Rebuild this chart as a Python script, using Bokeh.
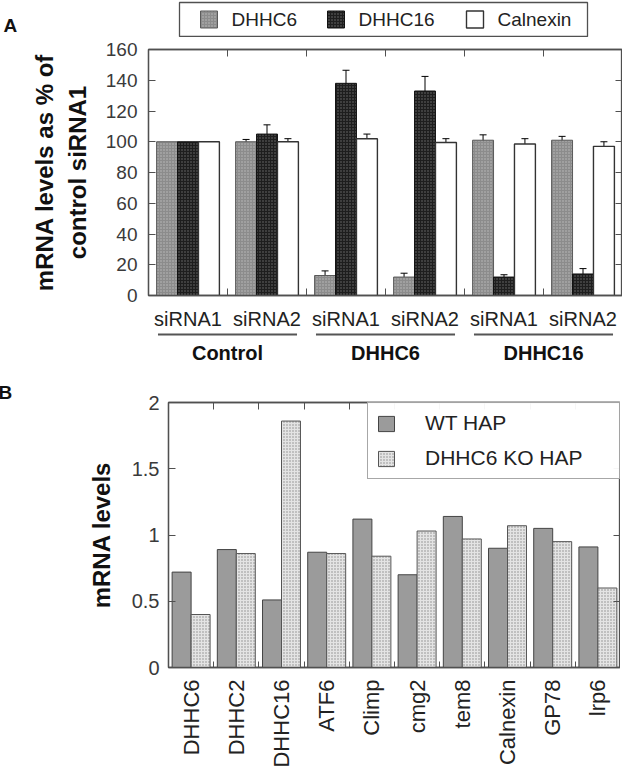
import numpy as np
from bokeh.plotting import figure
from bokeh.models import (Range1d, FixedTicker, LinearAxis, Legend, LegendItem,
                          Whisker, TeeHead, ColumnDataSource, NumeralTickFormatter,
                          CustomJSTickFormatter)
from bokeh.embed import file_html
from bokeh.resources import INLINE
from bokeh.core.properties import value

FONT = "Liberation Sans"
AX = "#505050"
TXT = "#3a3a3a"

# ---------------- Panel A data ----------------
groups = ["Control", "DHHC6", "DHHC16"]
sirna_labels = ["siRNA1", "siRNA2", "siRNA1", "siRNA2", "siRNA1", "siRNA2"]
a_series = ["DHHC6", "DHHC16", "Calnexin"]
dhhc6_vals = [100, 100, 13, 12, 101, 101]
dhhc6_err = [0, 1.5, 3, 2.5, 3.5, 2.5]
dhhc16_vals = [100, 105, 138, 133, 12, 14]
dhhc16_err = [0, 6, 8.5, 9.5, 1.5, 3.5]
calnexin_vals = [100, 100, 102, 99.5, 98.5, 97]
calnexin_err = [0, 2, 3, 2.5, 3.5, 3]
a_yticks = [0, 20, 40, 60, 80, 100, 120, 140, 160]

# ---------------- Panel B data ----------------
genes = ["DHHC6", "DHHC2", "DHHC16", "ATF6", "Climp", "cmg2", "tem8", "Calnexin", "GP78", "lrp6"]
wt_hap = [0.72, 0.89, 0.51, 0.87, 1.12, 0.70, 1.14, 0.90, 1.05, 0.91]
ko_hap = [0.40, 0.86, 1.86, 0.86, 0.84, 1.03, 0.97, 1.07, 0.95, 0.60]
b_yticks = [0, 0.5, 1, 1.5, 2]
b_series = ["WT HAP", "DHHC6 KO HAP"]


def inward_axis(axis, labels=True):
    axis.axis_line_color = AX
    axis.axis_line_width = 1.3
    axis.major_tick_line_color = AX
    axis.minor_tick_line_color = AX
    axis.major_tick_in = 7
    axis.major_tick_out = 0
    axis.minor_tick_in = 0
    axis.minor_tick_out = 0
    if not labels:
        axis.formatter = CustomJSTickFormatter(code="return ''")
        axis.major_label_text_font_size = "1px"
        axis.major_label_standoff = 0
    return axis


def blank(fig):
    fig.outline_line_color = None
    fig.grid.visible = False
    return fig


styles = [
    dict(fill_color="#8c8c8c", hatch_pattern="dot", hatch_color="#bdbdbd", hatch_scale=3,
         line_color="#5a5a5a", line_width=1),
    dict(fill_color="#1e1e1e", hatch_pattern="dot", hatch_color="#707070", hatch_scale=3,
         line_color="#111111", line_width=1),
    dict(fill_color="white", line_color="#333333", line_width=1.4),
]

# ================= Panel A header (letter + legend key) =================
H0 = 37
pA0 = figure(width=622, height=H0, x_range=Range1d(0, 622), y_range=Range1d(H0, 0),
             x_axis_location=None, y_axis_location=None,
             min_border_left=0, min_border_right=0, min_border_top=0, min_border_bottom=0,
             output_backend="svg", toolbar_location=None)
blank(pA0)
pA0.text(x=[3], y=[14], text=["A"], text_baseline="top", text_font=value(FONT),
         text_font_style="bold", text_font_size="19px", text_color="#111111")
# legend box and keys (layout positions, pixels)
pA0.quad(left=[179], right=[587], top=[2], bottom=[36], fill_color="white",
         line_color="#505050", line_width=1.3)
key_left = [200, 327, 466]
for kx, st in zip(key_left, styles):
    pA0.quad(left=[kx], right=[kx + 17], top=[10.5], bottom=[27.5], **st)
pA0.text(x=[k + 31 for k in key_left], y=[19] * 3, text=a_series, text_baseline="middle",
         text_font=value(FONT), text_font_size="19px", text_color="#222222")

# ================= Panel A =================
nA = len(sirna_labels)
xA = np.arange(nA)
bwA = 0.265
offA = [-bwA, 0.0, bwA]
bound_A = list(np.arange(nA - 1) + 0.5)

pA = figure(width=622, height=270, x_range=Range1d(-0.5, nA - 0.5), y_range=Range1d(0, 160),
            x_axis_location=None, y_axis_location=None,
            min_border_left=148, min_border_right=0, min_border_top=12, min_border_bottom=12,
            output_backend="svg", toolbar_location=None)
pA.outline_line_color = AX
pA.outline_line_width = 1.3
pA.grid.visible = False

for off, vals, errs, st in zip(offA, [dhhc6_vals, dhhc16_vals, calnexin_vals],
                               [dhhc6_err, dhhc16_err, calnexin_err], styles):
    pA.vbar(x=xA + off, top=vals, width=bwA, **st)
    v = np.array(vals, dtype=float)
    e = np.array(errs, dtype=float)
    m = e > 0
    src = ColumnDataSource(dict(base=(xA + off)[m], lower=(v - e)[m], upper=(v + e)[m]))
    w = Whisker(source=src, base="base", lower="lower", upper="upper",
                line_color="black", line_width=1,
                upper_head=TeeHead(size=7, line_color="black", line_width=1),
                lower_head=TeeHead(size=7, line_color="black", line_width=1))
    pA.add_layout(w)

yA = inward_axis(LinearAxis(ticker=FixedTicker(ticks=a_yticks)))
yA.major_label_text_font = FONT
yA.major_label_text_font_size = "19px"
yA.major_label_text_color = TXT
yA.major_label_standoff = 11
yA.axis_label = "mRNA levels as % of\ncontrol siRNA1"
yA.axis_label_text_font = FONT
yA.axis_label_text_font_style = "bold"
yA.axis_label_text_font_size = "24px"
yA.axis_label_text_color = "#111111"
yA.axis_label_standoff = 12
pA.add_layout(yA, "left")
pA.add_layout(inward_axis(LinearAxis(ticker=FixedTicker(ticks=a_yticks)), labels=False), "right")
pA.add_layout(inward_axis(LinearAxis(ticker=FixedTicker(ticks=bound_A)), labels=False), "above")
pA.add_layout(inward_axis(LinearAxis(ticker=FixedTicker(ticks=bound_A)), labels=False), "below")

# ---------- Panel A x labels ----------
pA2 = figure(width=622, height=65, x_range=pA.x_range, y_range=Range1d(65, 0),
             x_axis_location=None, y_axis_location=None,
             min_border_left=148, min_border_right=0, min_border_top=0, min_border_bottom=0,
             output_backend="svg", toolbar_location=None)
blank(pA2)
pA2.text(x=xA, y=[11] * nA, text=sirna_labels, text_align="center", text_baseline="middle",
         text_font=value(FONT), text_font_size="20px", text_color="#222222")
gstart = np.arange(len(groups)) * 2 - 0.5
pA2.segment(x0=gstart + 0.12, x1=gstart + 2 - 0.12, y0=[27] * 3, y1=[27] * 3,
            line_color="#555555", line_width=2)
pA2.text(x=gstart + 1, y=[45] * 3, text=groups, text_align="center", text_baseline="middle",
         text_font=value(FONT), text_font_style="bold", text_font_size="20px",
         text_color="#111111")

# ================= Panel B =================
nB = len(genes)
xB = np.arange(nB)
bwB = 0.42
bound_B = list(np.arange(nB - 1) + 0.5)

pB = figure(width=620, height=400, x_range=Range1d(-0.5, nB - 0.5), y_range=Range1d(0, 2),
            x_axis_location=None, y_axis_location=None,
            min_border_left=168, min_border_right=0, min_border_top=30, min_border_bottom=105,
            output_backend="svg", toolbar_location=None)
pB.outline_line_color = AX
pB.outline_line_width = 1.3
pB.grid.visible = False
pB.title.text = "B"
pB.title.align = "left"
pB.title.offset = -170
pB.title.standoff = 0
pB.title.text_font = FONT
pB.title.text_font_style = "bold"
pB.title.text_font_size = "19px"
pB.title.text_color = "#111111"

rW = pB.vbar(x=xB - bwB / 2, top=wt_hap, width=bwB, fill_color="#9b9b9b",
             line_color="#444444", line_width=1)
rK = pB.vbar(x=xB + bwB / 2, top=ko_hap, width=bwB, fill_color="#e4e4e4",
             hatch_pattern="dot", hatch_color="#8a8a8a", hatch_scale=3,
             line_color="#555555", line_width=1)

yB = inward_axis(LinearAxis(ticker=FixedTicker(ticks=b_yticks)))
yB.formatter = NumeralTickFormatter(format="0.[0]")
yB.major_label_text_font = FONT
yB.major_label_text_font_size = "20px"
yB.major_label_text_color = TXT
yB.major_label_standoff = 9
yB.axis_label = "mRNA levels"
yB.axis_label_text_font = FONT
yB.axis_label_text_font_style = "bold"
yB.axis_label_text_font_size = "24px"
yB.axis_label_text_color = "#111111"
yB.axis_label_standoff = 14
pB.add_layout(yB, "left")
pB.add_layout(inward_axis(LinearAxis(ticker=FixedTicker(ticks=b_yticks)), labels=False), "right")
pB.add_layout(inward_axis(LinearAxis(ticker=FixedTicker(ticks=bound_B)), labels=False), "above")

xBax = inward_axis(LinearAxis(ticker=FixedTicker(ticks=list(xB), minor_ticks=bound_B)))
xBax.major_tick_in = 0
xBax.minor_tick_in = 6
xBax.major_label_overrides = {int(i): g for i, g in zip(xB, genes)}
xBax.major_label_orientation = np.pi / 2
xBax.major_label_text_font = FONT
xBax.major_label_text_font_size = "22px"
xBax.major_label_text_color = "#222222"
xBax.major_label_standoff = 12
pB.add_layout(xBax, "below")

legB = Legend(items=[LegendItem(label=s, renderers=[r]) for s, r in zip(b_series, [rW, rK])],
              location="top_right", margin=0, padding=8, spacing=11,
              glyph_width=20, glyph_height=19, label_height=19, label_standoff=29,
              label_width=186,
              label_text_font=FONT, label_text_font_size="21px", label_text_color="#222222",
              border_line_color="#505050", border_line_width=1.3)
pB.add_layout(legB)

open("out.html", "w").write(file_html([pA0, pA, pA2, pB], INLINE))
